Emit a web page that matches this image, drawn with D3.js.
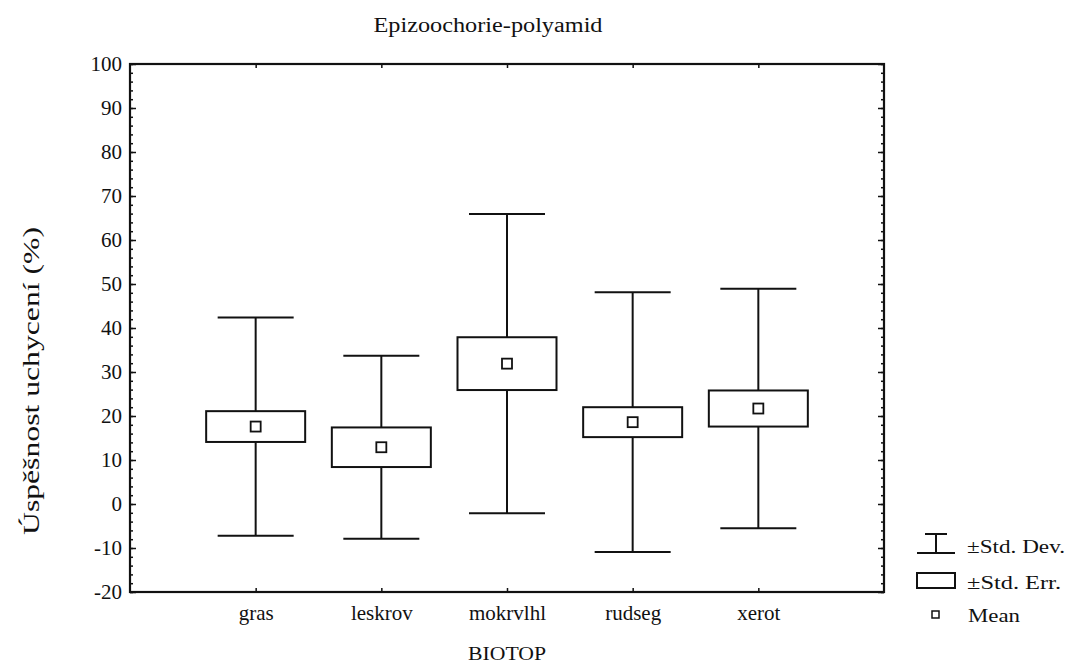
<!DOCTYPE html>
<html>
<head>
<meta charset="utf-8">
<script src="https://cdn.jsdelivr.net/npm/d3@7"></script>
<style>
  body { margin: 0; background: #fff; }
  svg text { font-family: "Liberation Serif", "DejaVu Serif", serif; fill: #111; }
</style>
</head>
<body>
<div class="chart"></div>
<script>
// Box & whisker (mean, ±SE box, ±SD whiskers) per biotope
var categories = ["gras", "leskrov", "mokrvlhl", "rudseg", "xerot"];
var means = [17.6, 12.9, 31.9, 18.6, 21.7];
var stdErr = [3.5, 4.5, 6.0, 3.4, 4.1];
var stdDev = [24.8, 20.8, 34.0, 29.5, 27.2];
var yTicks = [-20, -10, 0, 10, 20, 30, 40, 50, 60, 70, 80, 90, 100];

var svgWidth = 1074;
var svgHeight = 668;

var margin = { top: 64, right: 190, bottom: 76, left: 130 };
var width = svgWidth - margin.left - margin.right;
var height = svgHeight - margin.top - margin.bottom;
var serif = "Liberation Serif";

var svg = d3.select(".chart")
  .append("svg")
  .attr("width", svgWidth)
  .attr("height", svgHeight);

var chart = svg.append("g")
  .attr("transform", "translate(" + margin.left + "," + margin.top + ")");

var x = d3.scalePoint().domain(categories).range([0, width]).padding(1);
var y = d3.scaleLinear().domain([-20, 100]).range([height, 0]);

var data = categories.map(function(c, i) {
  return { cat: c, mean: means[i], se: stdErr[i], sd: stdDev[i] };
});

// minor ticks every 2
var minor = d3.range(-20, 101, 2);

function styleAxis(g) {
  g.attr("font-family", serif).attr("font-size", 21);
  g.select(".domain").remove();
  g.selectAll("line").attr("stroke", "#111").attr("stroke-width", 1.5);
  g.selectAll("text").attr("fill", "#111");
}

chart.append("g")
  .call(d3.axisLeft(y).tickValues(minor).tickSize(-3).tickFormat(""))
  .call(styleAxis);
chart.append("g")
  .call(d3.axisLeft(y).tickValues(yTicks).tickSize(-6).tickPadding(8)
    .tickFormat(function(d) { return String(d); }))
  .call(styleAxis);

chart.append("g")
  .attr("transform", "translate(" + width + ",0)")
  .call(d3.axisRight(y).tickValues(minor).tickSize(-3).tickFormat(""))
  .call(styleAxis);
chart.append("g")
  .attr("transform", "translate(" + width + ",0)")
  .call(d3.axisRight(y).tickValues(yTicks).tickSize(-6).tickFormat(""))
  .call(styleAxis);

chart.append("g")
  .attr("transform", "translate(0," + height + ")")
  .call(d3.axisBottom(x).tickSize(-4).tickPadding(13))
  .call(styleAxis);
chart.append("g")
  .call(d3.axisTop(x).tickSize(-4).tickFormat(""))
  .call(styleAxis);

// frame
chart.append("rect")
  .attr("x", 0).attr("y", 0)
  .attr("width", width).attr("height", height)
  .attr("fill", "none")
  .attr("stroke", "#111")
  .attr("stroke-width", 2.2);

var boxW = 99, capW = 76, meanS = 10;

var groups = chart.selectAll(".item")
  .data(data)
  .enter().append("g")
  .attr("class", "item");

// whisker stem
groups.append("line")
  .attr("x1", function(d) { return x(d.cat); })
  .attr("x2", function(d) { return x(d.cat); })
  .attr("y1", function(d) { return y(d.mean + d.sd); })
  .attr("y2", function(d) { return y(d.mean - d.sd); })
  .attr("stroke", "#111").attr("stroke-width", 2);

// caps
[1, -1].forEach(function(s) {
  groups.append("line")
    .attr("x1", function(d) { return x(d.cat) - capW / 2; })
    .attr("x2", function(d) { return x(d.cat) + capW / 2; })
    .attr("y1", function(d) { return y(d.mean + s * d.sd); })
    .attr("y2", function(d) { return y(d.mean + s * d.sd); })
    .attr("stroke", "#111").attr("stroke-width", 2);
});

// SE box
groups.append("rect")
  .attr("x", function(d) { return x(d.cat) - boxW / 2; })
  .attr("y", function(d) { return y(d.mean + d.se); })
  .attr("width", boxW)
  .attr("height", function(d) { return y(d.mean - d.se) - y(d.mean + d.se); })
  .attr("fill", "#fff")
  .attr("stroke", "#111").attr("stroke-width", 2);

// mean marker
groups.append("rect")
  .attr("x", function(d) { return x(d.cat) - meanS / 2; })
  .attr("y", function(d) { return y(d.mean) - meanS / 2; })
  .attr("width", meanS).attr("height", meanS)
  .attr("fill", "#fff")
  .attr("stroke", "#111").attr("stroke-width", 1.8);

// title
svg.append("text")
  .attr("x", 488).attr("y", 32)
  .attr("text-anchor", "middle")
  .attr("font-size", 20)
  .attr("textLength", 229).attr("lengthAdjust", "spacingAndGlyphs")
  .text("Epizoochorie-polyamid");

// axis labels
svg.append("text")
  .attr("x", 507).attr("y", 660)
  .attr("text-anchor", "middle")
  .attr("font-size", 19)
  .attr("textLength", 78).attr("lengthAdjust", "spacingAndGlyphs")
  .text("BIOTOP");

svg.append("text")
  .attr("transform", "translate(39,381) rotate(-90)")
  .attr("text-anchor", "middle")
  .attr("font-size", 24)
  .attr("textLength", 308).attr("lengthAdjust", "spacingAndGlyphs")
  .text("Úspěšnost uchycení (%)");

// legend
var lg = svg.append("g").attr("transform", "translate(917,0)");
lg.append("line").attr("x1", 0).attr("x2", 38).attr("y1", 553).attr("y2", 553)
  .attr("stroke", "#111").attr("stroke-width", 2);
lg.append("line").attr("x1", 19).attr("x2", 19).attr("y1", 534).attr("y2", 553)
  .attr("stroke", "#111").attr("stroke-width", 2);
lg.append("line").attr("x1", 8).attr("x2", 30).attr("y1", 534).attr("y2", 534)
  .attr("stroke", "#111").attr("stroke-width", 2);
lg.append("text").attr("x", 50).attr("y", 553).attr("font-size", 19)
  .attr("textLength", 98).attr("lengthAdjust", "spacingAndGlyphs").text("±Std. Dev.");

lg.append("rect").attr("x", 0).attr("y", 573).attr("width", 38).attr("height", 15)
  .attr("fill", "#fff").attr("stroke", "#111").attr("stroke-width", 2);
lg.append("text").attr("x", 50).attr("y", 589).attr("font-size", 19)
  .attr("textLength", 94).attr("lengthAdjust", "spacingAndGlyphs").text("±Std. Err.");

lg.append("rect").attr("x", 15).attr("y", 611).attr("width", 7).attr("height", 7)
  .attr("fill", "#fff").attr("stroke", "#111").attr("stroke-width", 1.5);
lg.append("text").attr("x", 51).attr("y", 622).attr("font-size", 19)
  .attr("textLength", 52).attr("lengthAdjust", "spacingAndGlyphs").text("Mean");
</script>
</body>
</html>
